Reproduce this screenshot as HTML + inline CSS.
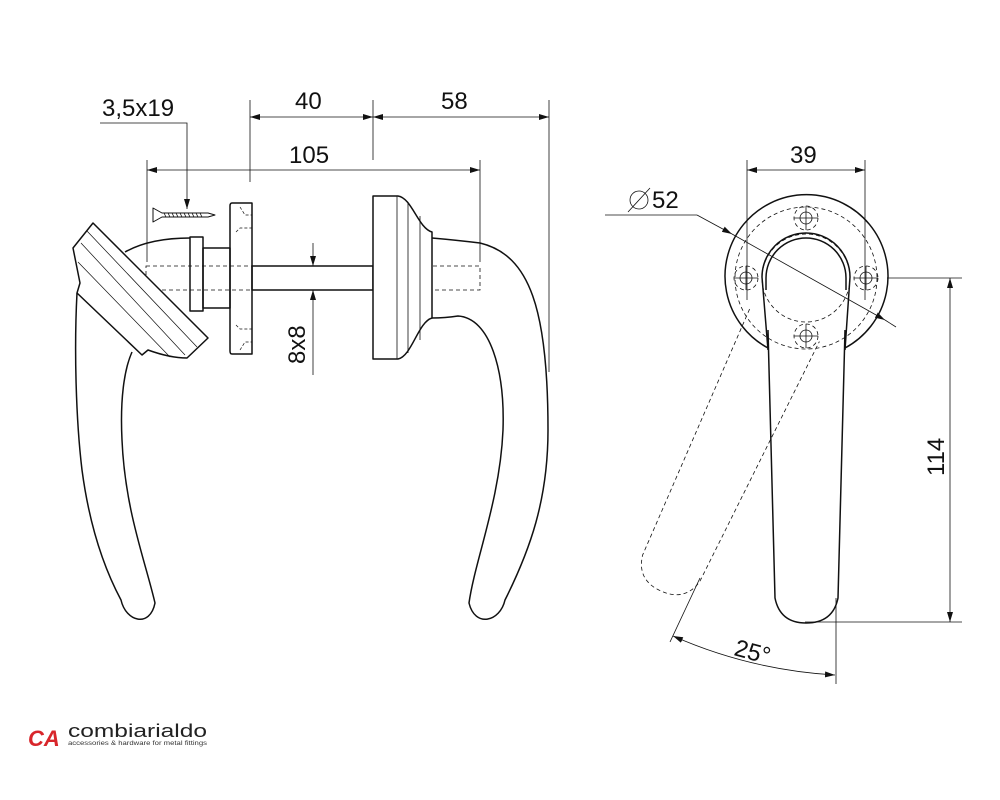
<!DOCTYPE html>
<html><head><meta charset="utf-8"><style>
html,body{margin:0;padding:0;background:#fff;}
svg{display:block;}
text{font-family:"Liberation Sans",sans-serif;fill:#111;}
</style></head><body>
<svg width="1000" height="800" viewBox="0 0 1000 800" xmlns="http://www.w3.org/2000/svg">
<defs>
<marker id="a" viewBox="0 0 10 6" refX="10" refY="3" markerWidth="10" markerHeight="6" orient="auto-start-reverse" markerUnits="userSpaceOnUse"><path d="M0,0L10,3L0,6z" fill="#111"/></marker>
</defs>
<g fill="none" stroke="#111" stroke-width="0.8">
<line x1="250" y1="100" x2="250" y2="182"/>
<line x1="373" y1="100" x2="373" y2="160"/>
<line x1="549" y1="100" x2="549" y2="372"/>
<line x1="147" y1="160" x2="147" y2="262"/>
<line x1="480" y1="160" x2="480" y2="262"/>
<line x1="250" y1="117" x2="373" y2="117" marker-start="url(#a)" marker-end="url(#a)"/>
<line x1="373" y1="117" x2="549" y2="117" marker-start="url(#a)" marker-end="url(#a)"/>
<line x1="147" y1="170" x2="480" y2="170" marker-start="url(#a)" marker-end="url(#a)"/>
<polyline points="100,123 187,123 187,209" marker-end="url(#a)"/>
<line x1="313" y1="243" x2="313" y2="266" marker-end="url(#a)"/>
<line x1="313" y1="375" x2="313" y2="290" marker-end="url(#a)"/>
<rect x="146" y="266" width="334" height="24" stroke-dasharray="4,3"/>
</g>
<g fill="none" stroke="#111" stroke-width="1.5" stroke-linejoin="round">
<path d="M153,208 L153,222 L162,217 L208,217 L215,215 L208,213 L162,213 Z" stroke-width="1"/>
<path d="M164,213 l2,4 M168,213 l2,4 M172,213 l2,4 M176,213 l2,4 M180,213 l2,4 M184,213 l2,4 M188,213 l2,4 M192,213 l2,4 M196,213 l2,4 M200,213 l2,4" stroke-width="0.8"/>
<rect x="252" y="266" width="121" height="24"/>
<path d="M232,203 L252,203 L252,354 L232,354 Q230,354 230,351 L230,206 Q230,203 232,203Z"/>
<path d="M240,207 l5,8 h7 M236,232 l4,-4 h12 M240,350 l5,-8 h7 M236,325 l4,4 h12" stroke-width="0.7" stroke-dasharray="3,2"/>
<rect x="190" y="237" width="13" height="74"/>
<rect x="203" y="248" width="27" height="60"/>
<path d="M125,252 Q150,238 190,238"/>
<path d="M77,293 C74,350 76,420 82,470 C90,530 105,570 121,600 C126,622 150,628 155,603 C145,560 125,510 122,440 C120,400 124,370 132,352"/>
<path d="M93,223 L73,248 L80,283 L77,293 L142,355 L148,350 Q170,358 187,358 L208,338 Z" fill="#fff"/>
<g stroke-width="0.7"><path d="M87,231 L197,347 M81,243 L185,355 M78,262 L170,357"/></g>
<path d="M373,196 L398,196 C412,198 418,228 432,232 L432,318 C418,322 412,356 398,359 L373,359 Z" fill="#fff"/>
<path d="M397,196 V359 M408,202 V353 M420,216 V340" stroke-width="0.8"/>
<path d="M432,238 Q455,240 480,243 C530,255 548,310 548,430 C548,500 530,550 505,600 C500,622 475,628 469,603 C475,560 500,500 503,430 C505,370 490,318 458,316 Q445,318 432,318"/>
</g>
<g font-size="24">
<text x="102" y="116">3,5x19</text>
<text x="295" y="109">40</text>
<text x="441" y="109">58</text>
<text x="289" y="163">105</text>
<text transform="translate(305,364) rotate(-90)">8x8</text>
<text x="790" y="163">39</text>
<text x="652" y="208">52</text>
<text transform="translate(944,476) rotate(-90)">114</text>
<text transform="translate(733,655) rotate(15)">25°</text>
</g>
<g fill="none" stroke="#111" stroke-width="0.8">
<line x1="747" y1="160" x2="747" y2="300"/>
<line x1="865" y1="160" x2="865" y2="300"/>
<line x1="747" y1="170" x2="865" y2="170" marker-start="url(#a)" marker-end="url(#a)"/>
<circle cx="639" cy="200" r="9"/><line x1="628" y1="212" x2="650" y2="188"/>
<line x1="605" y1="215" x2="697" y2="215"/>
<line x1="697" y1="215" x2="732" y2="234" marker-end="url(#a)"/>
<line x1="732" y1="234" x2="885" y2="320" marker-end="url(#a)"/>
<line x1="885" y1="320" x2="896" y2="327"/>
<line x1="887" y1="278" x2="962" y2="278"/>
<line x1="805" y1="622" x2="962" y2="622"/>
<line x1="950" y1="278" x2="950" y2="622" marker-start="url(#a)" marker-end="url(#a)"/>
<line x1="836" y1="598" x2="836" y2="684"/>
<line x1="700" y1="578" x2="670" y2="642"/>
<path d="M673,636 Q750,670 835,675" marker-start="url(#a)" marker-end="url(#a)"/>
<g stroke-dasharray="4,3">
<circle cx="806" cy="278" r="71"/>
<circle cx="806" cy="278" r="44"/>
<circle cx="746" cy="278" r="12"/><circle cx="866" cy="278" r="12"/>
<circle cx="806" cy="218" r="12"/><circle cx="806" cy="336" r="12"/>
<g transform="rotate(25 806 278)"><path d="M768,330 L775,598 Q780,623 806,623 Q833,623 838,598 L845,330"/></g>
</g>
<g stroke-width="0.8">
<circle cx="746" cy="278" r="6"/><path d="M734,278h24M746,266v24"/>
<circle cx="866" cy="278" r="6"/><path d="M854,278h24M866,266v24"/>
<circle cx="806" cy="218" r="6"/><path d="M794,218h24M806,206v24"/>
<circle cx="806" cy="336" r="6"/><path d="M794,336h24M806,324v24"/>
</g>
</g>
<g fill="none" stroke="#111" stroke-width="1.5">
<path d="M768,348 A81.5,81.5 0 1 1 845,348"/>
<path d="M768,350 L762,277 A44,44 0 0 1 850,277 L845,350"/>
<path d="M766,290 L766,278 A40,40 0 0 1 846,278 L846,290"/>
<path d="M768,330 L775,598 Q780,623 806,623 Q833,623 838,598 L845,330"/>
</g>
<text x="28" y="746" font-size="22" font-weight="bold" font-style="italic" style="fill:#d8262b">CA</text>
<text x="68" y="737" font-size="18" textLength="139" lengthAdjust="spacingAndGlyphs" style="fill:#222">combiarialdo</text>
<text x="68" y="745" font-size="6" textLength="139" lengthAdjust="spacingAndGlyphs" style="fill:#333">accessories &amp; hardware for metal fittings</text>
</svg>
</body></html>
